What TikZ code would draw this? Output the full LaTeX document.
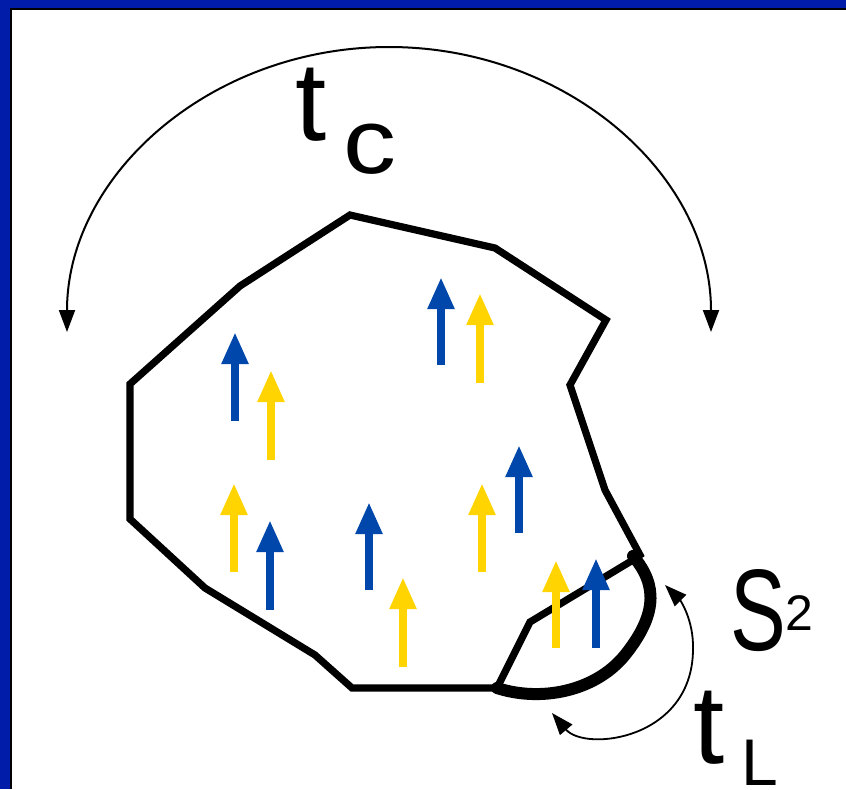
\documentclass[tikz,border=0pt]{standalone}
\usepackage{fontspec}
\usepackage{graphicx}
\setmainfont{Liberation Sans}
\usetikzlibrary{arrows.meta}
\definecolor{framblue}{HTML}{001CA8}
\definecolor{spblue}{HTML}{0047AB}
\definecolor{spyellow}{HTML}{FFD400}

\tikzset{
  boundary/.style={line width=3.6pt,line join=miter},
  lobe/.style={line width=6pt,line cap=round},
  spinblue/.style={spblue,line width=4pt,-{Triangle[length=16pt,width=12.5pt]}},
  spinyellow/.style={spyellow,line width=4pt,-{Triangle[length=16pt,width=12.5pt]}},
  rotarrow/.style={line width=1pt,{Triangle[length=11pt,width=8pt]}-{Triangle[length=11pt,width=8pt]}},
  biglabel/.style={anchor=base west,inner sep=0pt,font=\fontsize{56pt}{56pt}\selectfont}
}

\begin{document}
\begin{tikzpicture}[x=0.5pt,y=-0.5pt]
\useasboundingbox (0,0) rectangle (846,789);
% frame
\fill[white] (0,0) rectangle (846,789);
\fill[framblue] (0,0) rectangle (846,7.5);
\fill[framblue] (0,0) rectangle (9.5,789);
\fill[black] (9.5,7.5) rectangle (846,9.5);
\fill[black] (9.5,7.5) rectangle (11.5,789);

% grain outline
\draw[boundary] (497,688) -- (352,688) -- (315,655) -- (205,588) -- (130,519) -- (130,384)
  -- (240,286) -- (350,215) -- (495,248) -- (606,320) -- (570,385) -- (605,490)
  -- (640,555) -- (633,560) -- (530,622) -- cycle;
\draw[lobe] (633,556) .. controls (658,585) and (657,615) .. (625,655)
  .. controls (595,692) and (540,702) .. (497,688);
\fill (633,555) circle (5);

% spins
\draw[spinblue] (235,421) -- (235,332);
\draw[spinblue] (441,365) -- (441,277);
\draw[spinblue] (519,533) -- (519,445);
\draw[spinblue] (270,610) -- (270,520);
\draw[spinblue] (369,590) -- (369,502);
\draw[spinblue] (596,648) -- (596,558);
\draw[spinyellow] (271,460) -- (271,370);
\draw[spinyellow] (480,383) -- (480,293);
\draw[spinyellow] (234,572) -- (234,483);
\draw[spinyellow] (482,572) -- (482,483);
\draw[spinyellow] (403,667) -- (403,577);
\draw[spinyellow] (556,648) -- (556,560);

% rotations
\coordinate (tcL) at (67,332);
\coordinate (tlB) at (552,713);
\coordinate (tlM) at (693,650);
\coordinate (tlT) at (665,585);
\draw[rotarrow] (tcL) arc[start angle=180,end angle=360,x radius=322,y radius=285];
\draw[rotarrow,line width=0.9pt] (tlB) .. controls (585,752) and (692,740) .. (tlM)
  .. controls (694,620) and (680,600) .. (tlT);

% labels
\node[biglabel] (tcT) at (295,140) {t};
\node[biglabel,font=\fontsize{46pt}{46pt}\selectfont] (tcC) at (343,173) {\scalebox{1.15}[1]{c}};
\node[biglabel,font=\fontsize{58pt}{58pt}\selectfont] (sS) at (730,650) {\scalebox{0.72}[1]{S}};
\node[biglabel,font=\fontsize{25pt}{25pt}\selectfont] (sTwo) at (785,630) {2};
\node[biglabel] (tlT) at (693,763) {t};
\node[biglabel,font=\fontsize{33pt}{33pt}\selectfont] (tlL) at (741,785) {L};
\end{tikzpicture}
\end{document}
